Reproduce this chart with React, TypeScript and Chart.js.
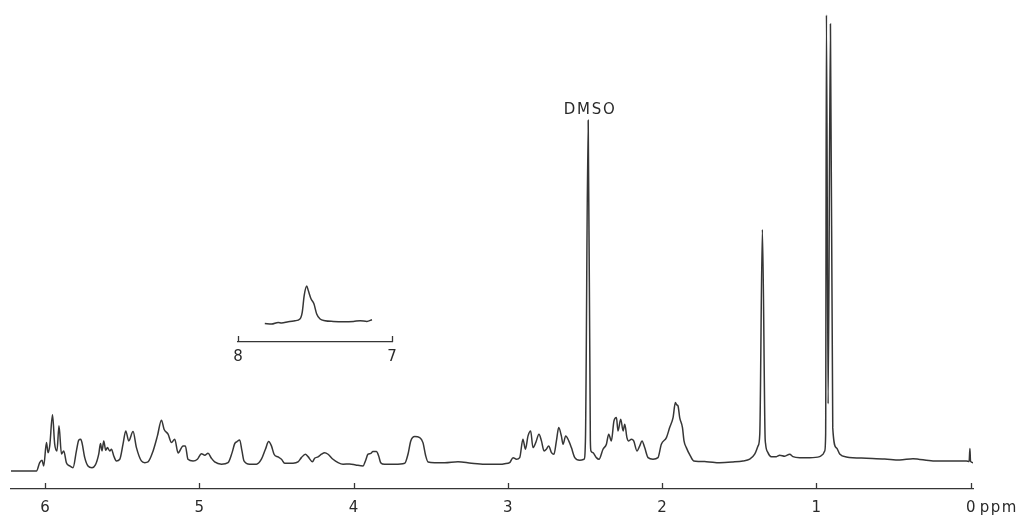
import React, { useEffect, useRef } from "react";
import { Chart, registerables } from "chart.js";

Chart.register(...registerables);

// Main 1H spectrum: chemical shift (ppm) and relative intensity (arbitrary units)
const spectrumPpm = [
  6.22, 6.131, 6.055, 6.034, 6.019, 6.008, 5.99, 5.98, 5.969, 5.951,
  5.937, 5.922, 5.909, 5.893, 5.878, 5.861, 5.839, 5.818, 5.796, 5.781,
  5.768, 5.76, 5.742, 5.721, 5.695, 5.673, 5.651, 5.64, 5.63, 5.619,
  5.606, 5.595, 5.58, 5.569, 5.554, 5.537, 5.515, 5.494, 5.476, 5.457,
  5.429, 5.407, 5.375, 5.353, 5.332, 5.299, 5.271, 5.245, 5.228, 5.202,
  5.18, 5.159, 5.137, 5.105, 5.09, 5.073, 5.04, 5.012, 4.986, 4.964,
  4.943, 4.921, 4.9, 4.856, 4.813, 4.787, 4.77, 4.755, 4.738, 4.723,
  4.71, 4.673, 4.629, 4.597, 4.571, 4.55, 4.532, 4.515, 4.489, 4.467,
  4.446, 4.392, 4.36, 4.338, 4.312, 4.295, 4.266, 4.252, 4.23, 4.208,
  4.187, 4.165, 4.133, 4.1, 4.068, 4.025, 3.986, 3.938, 3.923, 3.906,
  3.891, 3.874, 3.852, 3.837, 3.824, 3.798, 3.733, 3.668, 3.647, 3.629,
  3.603, 3.571, 3.55, 3.532, 3.517, 3.474, 3.409, 3.323, 3.236, 3.15,
  3.042, 3.02, 2.988, 2.966, 2.944, 2.923, 2.902, 2.886, 2.869, 2.852,
  2.837, 2.819, 2.798, 2.782, 2.765, 2.75, 2.735, 2.717, 2.701, 2.685,
  2.67, 2.653, 2.642, 2.625, 2.605, 2.588, 2.566, 2.534, 2.506, 2.497,
  2.479, 2.465, 2.461, 2.448, 2.426, 2.409, 2.383, 2.361, 2.346, 2.329,
  2.312, 2.296, 2.286, 2.268, 2.253, 2.242, 2.228, 2.216, 2.199, 2.184,
  2.163, 2.145, 2.13, 2.113, 2.091, 2.059, 2.027, 2.005, 1.972, 1.951,
  1.929, 1.914, 1.905, 1.897, 1.886, 1.868, 1.858, 1.843, 1.817, 1.795,
  1.713, 1.627, 1.541, 1.476, 1.432, 1.4, 1.378, 1.367, 1.35, 1.333,
  1.329, 1.314, 1.292, 1.259, 1.238, 1.205, 1.173, 1.152, 1.108, 1.043,
  0.979, 0.957, 0.946, 0.94, 0.935, 0.924, 0.909, 0.894, 0.87, 0.849,
  0.806, 0.676, 0.557, 0.46, 0.374, 0.244, 0.136, 0.028, 0.01, 0.005,
  0.001, -0.015,
];

const spectrumIntensity = [
  0, 0, 0, 8.3, 10.7, 5, 28.3, 18.3, 25, 56,
  27, 20, 45, 17, 20, 8.3, 5, 3.3, 20, 30.7,
  31.7, 28.3, 13.3, 5, 3.3, 6, 17, 27.3, 20, 30,
  20.7, 23.3, 20, 21.7, 15, 10, 11.7, 26.7, 40, 30,
  39.3, 23.3, 10, 8.3, 9, 20, 35, 50.7, 41.7, 36.7,
  28.3, 31.7, 18, 25, 25, 11.7, 10, 11.7, 17.3, 15.7,
  17.7, 12.7, 9, 6.7, 8.3, 18.3, 27.3, 29.3, 31, 20,
  10, 6.7, 6.7, 11.7, 21.7, 29.3, 25, 16.7, 14, 11.7,
  7.7, 7.7, 9, 13.3, 16.7, 14.3, 9.3, 12.7, 14, 16.7,
  18.3, 16.7, 11.7, 8.3, 6.7, 7, 6, 5, 10, 16.7,
  17.3, 19.3, 19.3, 15, 8.3, 6.7, 6.7, 7.7, 16.7, 30,
  34.3, 33.3, 28.3, 15, 9, 8.3, 8.3, 9.3, 7.7, 6.7,
  6.7, 7.3, 8.3, 13.3, 11.7, 13.3, 31.7, 21.7, 35, 40,
  23.3, 28.3, 36.7, 30, 20, 21.7, 25, 18.3, 16.7, 30,
  43.3, 35, 26.7, 35, 30, 23.3, 13.3, 10.7, 11.7, 30,
  350, 30, 20, 18.3, 13.3, 11.7, 21.7, 26.7, 36.7, 30,
  50, 53.3, 40, 51.7, 40, 46.7, 33.3, 30, 31.7, 30,
  20, 25, 30, 23.3, 13.3, 11.7, 13.3, 26.7, 33.3, 43.3,
  53.3, 68.3, 66, 65, 53.3, 43.3, 30, 23.3, 15, 10,
  9.3, 8.3, 9, 10, 11.7, 16.7, 25, 36.7, 241, 36.7,
  26.7, 18.3, 14.3, 14.3, 15.7, 14.7, 16.7, 14.3, 13.3, 13.3,
  14.3, 16.7, 20, 37, 455, 67, 446, 43, 23, 17,
  14, 12.7, 12, 11, 12.3, 10, 10, 10, 9.5, 22.3,
  9.5, 8.3,
];

// Inset (aromatic region 8 - 7 ppm)
const insetPpm = [
  7.826, 7.782, 7.739, 7.717, 7.674, 7.63, 7.598, 7.583, 7.57, 7.554,
  7.544, 7.526, 7.507, 7.489, 7.467, 7.435, 7.381, 7.316, 7.25, 7.207,
  7.163, 7.13,
];
const insetIntensity = [
  7.3, 6.7, 8.3, 7.7, 9, 10, 11.7, 18.3, 35, 44.3,
  40, 31.7, 26.7, 16.7, 11.7, 10, 9.3, 9, 9.3, 10,
  9.3, 11,
];

const mainTicks = [0, 1, 2, 3, 4, 5, 6];
const insetTicks = [7, 8];
const solventLabel = "DMSO";
const solventPpm = 2.479;
const solventIntensity = 350;
const unitLabel = "ppm";

const INK = "#363636";
const TEXT = "#2a2a2a";
const FONT = '"DejaVu Sans", sans-serif';

function upTicksPlugin(values: number[], len: number) {
  return {
    id: "upTicks",
    afterDraw(chart: any) {
      const ctx = chart.ctx;
      const xs = chart.scales.x;
      const bottom = chart.chartArea.bottom;
      ctx.save();
      ctx.strokeStyle = INK;
      ctx.lineWidth = 1.3;
      values.forEach((v) => {
        const px = Math.round(xs.getPixelForValue(v)) + 0.5;
        ctx.beginPath();
        ctx.moveTo(px, bottom);
        ctx.lineTo(px, bottom - len);
        ctx.stroke();
      });
      ctx.restore();
    },
  };
}

const annotationPlugin = {
  id: "annotations",
  afterDraw(chart: any) {
    const ctx = chart.ctx;
    const xs = chart.scales.x;
    const ys = chart.scales.y;
    ctx.save();
    ctx.fillStyle = TEXT;
    ctx.font = `15px ${FONT}`;
    (ctx as any).letterSpacing = "1.8px";
    ctx.textAlign = "center";
    ctx.textBaseline = "alphabetic";
    ctx.fillText(
      solventLabel,
      xs.getPixelForValue(solventPpm) + 2,
      ys.getPixelForValue(solventIntensity) - 6
    );
    (ctx as any).letterSpacing = "1.5px";
    ctx.textAlign = "left";
    ctx.textBaseline = "top";
    ctx.fillText(unitLabel, xs.getPixelForValue(0) + 9, chart.chartArea.bottom + 12);
    ctx.restore();
  },
};

export default function App() {
  const mainRef = useRef<HTMLCanvasElement | null>(null);
  const insetRef = useRef<HTMLCanvasElement | null>(null);

  useEffect(() => {
    if (!mainRef.current || !insetRef.current) return;

    const main = new Chart(mainRef.current, {
      type: "line",
      data: {
        datasets: [
          {
            data: spectrumPpm.map((p, i) => ({ x: p, y: spectrumIntensity[i] })),
            borderColor: INK,
            borderWidth: 1.5,
            pointRadius: 0,
            cubicInterpolationMode: "monotone",
            fill: false,
          },
        ],
      },
      options: {
        responsive: false,
        animation: false,
        events: [],
        layout: { padding: { left: 11, right: 51, top: 0, bottom: -13 } },
        plugins: { legend: { display: false }, tooltip: { enabled: false }, title: { display: false } },
        scales: {
          x: {
            type: "linear",
            reverse: true,
            min: -0.015,
            max: 6.22,
            afterBuildTicks: (s: any) => {
              s.ticks = mainTicks.map((v) => ({ value: v }));
            },
            grid: { display: false, drawTicks: false },
            border: { display: true, color: INK, width: 1.3 },
            ticks: {
              color: TEXT,
              font: { family: FONT, size: 15, lineHeight: 1 },
              padding: 12,
              maxRotation: 0,
              autoSkip: false,
              callback: (v: any) => String(v),
            },
          },
          y: {
            type: "linear",
            display: false,
            min: -18,
            max: 470,
          },
        },
      },
      plugins: [upTicksPlugin(mainTicks, 6), annotationPlugin],
    } as any);

    const inset = new Chart(insetRef.current, {
      type: "line",
      data: {
        datasets: [
          {
            data: insetPpm.map((p, i) => ({ x: p, y: insetIntensity[i] })),
            borderColor: INK,
            borderWidth: 1.5,
            pointRadius: 0,
            cubicInterpolationMode: "monotone",
            fill: false,
          },
        ],
      },
      options: {
        responsive: false,
        animation: false,
        events: [],
        layout: { padding: { left: 38, right: 38, top: 0, bottom: -3 } },
        plugins: { legend: { display: false }, tooltip: { enabled: false } },
        scales: {
          x: {
            type: "linear",
            reverse: true,
            min: 7,
            max: 8,
            afterBuildTicks: (s: any) => {
              s.ticks = insetTicks.map((v) => ({ value: v }));
            },
            grid: { display: false, drawTicks: false },
            border: { display: true, color: INK, width: 1.3 },
            ticks: {
              color: TEXT,
              font: { family: FONT, size: 15, lineHeight: 1 },
              padding: 8,
              maxRotation: 0,
              autoSkip: false,
              callback: (v: any) => String(v),
            },
          },
          y: { type: "linear", display: false, min: -11, max: 70 },
        },
      },
      plugins: [upTicksPlugin(insetTicks, 6)],
    } as any);

    return () => {
      main.destroy();
      inset.destroy();
    };
  }, []);

  return (
    <div
      style={{
        position: "fixed",
        left: 0,
        top: 0,
        width: 1024,
        height: 515,
        background: "#ffffff",
      }}
    >
      <canvas
        ref={mainRef}
        width={1024}
        height={515}
        style={{ position: "absolute", left: 0, top: 0, width: 1024, height: 515 }}
      />
      <canvas
        ref={insetRef}
        width={230}
        height={110}
        style={{ position: "absolute", left: 200, top: 260, width: 230, height: 110 }}
      />
    </div>
  );
}
